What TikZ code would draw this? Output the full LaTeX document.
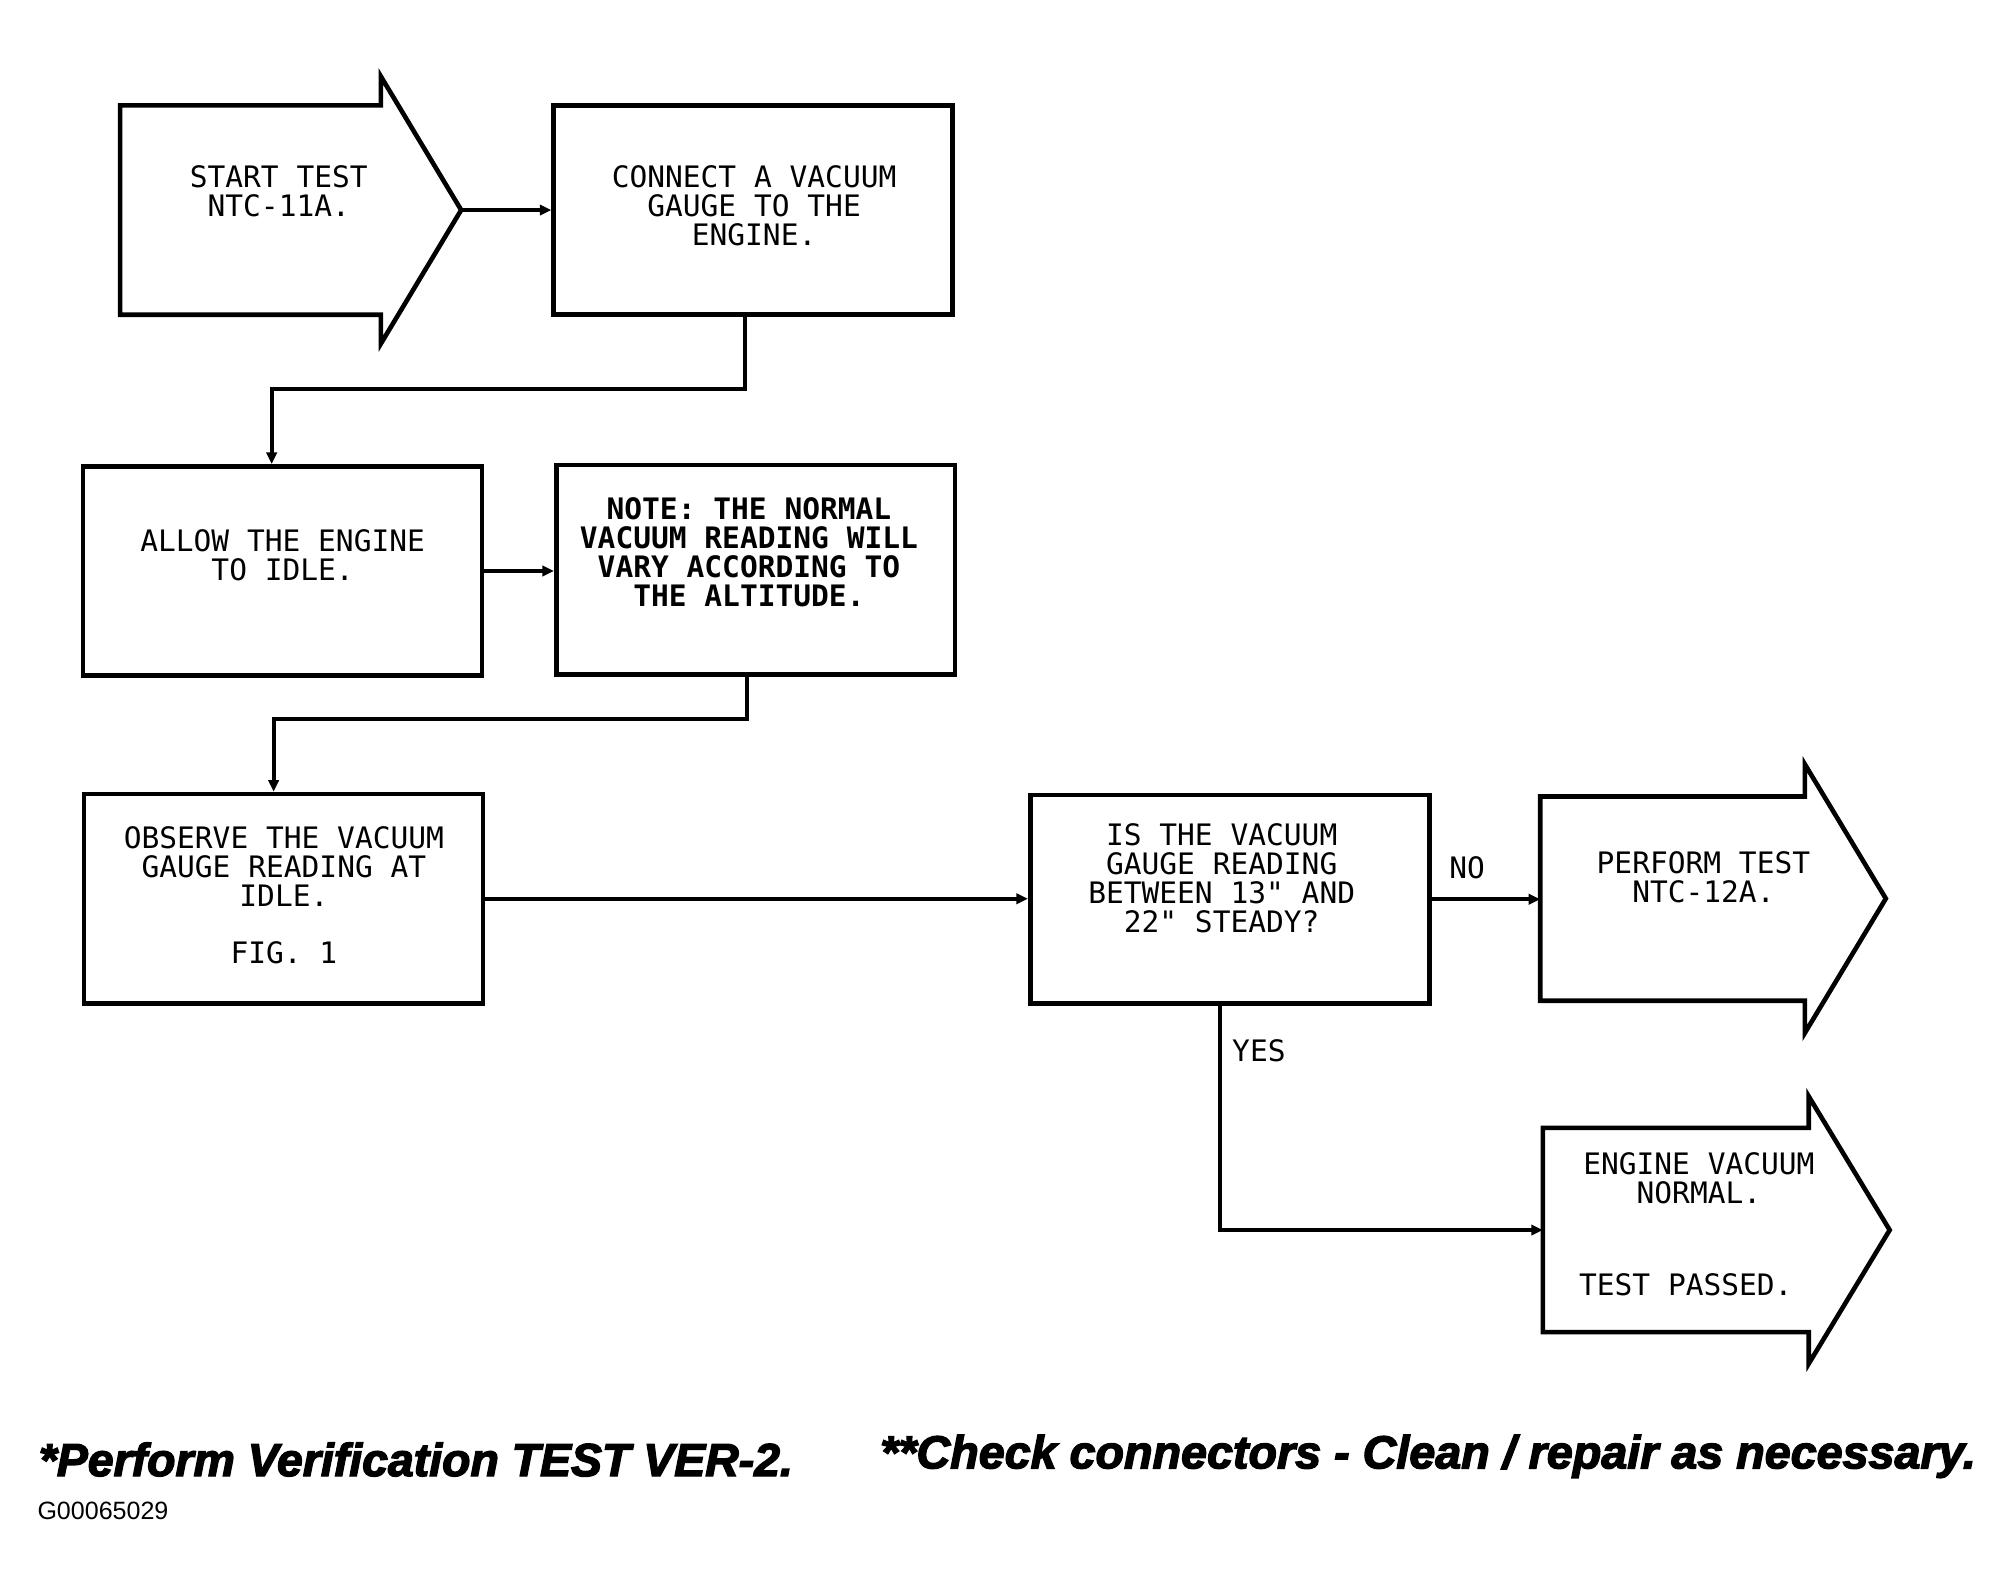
\documentclass[tikz,border=0pt]{standalone}
\usepackage{fontspec}
\usepackage{graphicx}
\usetikzlibrary{arrows.meta,calc}
\newfontfamily\monof[Ligatures=TeXOff]{DejaVu Sans Mono}
\newfontfamily\footf[FakeBold=3]{Liberation Sans Bold Italic}
\newfontfamily\codef{Liberation Sans}
\tikzset{
  boxnode/.style={draw, rectangle, line width=3.6pt, minimum width=310.5pt, minimum height=163pt, inner sep=0pt},
  arrowshape/.style={draw, line width=3.6pt, line join=miter},
  txt/.style={font=\monof\fontsize{23}{22.5}\selectfont, align=center, inner sep=0pt, anchor=north},
  boldtxt/.style={txt, font=\monof\bfseries\fontsize{23}{22.7}\selectfont},
  lbl/.style={font=\monof\fontsize{23}{22.5}\selectfont, inner sep=0pt},
  conn/.style={line width=3pt, -{Triangle[length=9pt,width=8pt]}},
}
\begin{document}
\begin{tikzpicture}[x=1pt,y=-1pt]
\fill[white] (0,0) rectangle (1560,1241);
\useasboundingbox (0,0) rectangle (1560,1241);

% start arrow shape
\draw[arrowshape] (93.5,82) -- (296.5,82) -- (296.5,59.5) -- (359,163.5) -- (296.5,267.5) -- (296.5,245) -- (93.5,245) -- cycle;
\coordinate (starttip) at (359,163.5);
\node[txt] (starttxt) at (217,129) {START TEST\\NTC-11A.};

% boxes
\node[boxnode] (connect) at (586.25,163.5) {};
\node[txt] (connecttxt) at (587,129) {CONNECT A VACUUM\\GAUGE TO THE\\ENGINE.};

\node[boxnode] (allow) at (220,444.5) {};
\node[txt] (allowtxt) at (220,412) {ALLOW THE ENGINE\\TO IDLE.};

\node[boxnode] (note) at (588.25,443.5) {};
\node[boldtxt] (notetxt) at (583,387) {NOTE: THE NORMAL\\VACUUM READING WILL\\VARY ACCORDING TO\\THE ALTITUDE.};

\node[boxnode] (observe) at (220.75,699.6) {};
\node[txt] (observetxt) at (221,643) {OBSERVE THE VACUUM\\GAUGE READING AT\\IDLE.\\[22.5pt]FIG. 1};

\node[boxnode, minimum width=311pt, minimum height=162pt] (is) at (957.5,700) {};
\node[txt] (istxt) at (951,641) {IS THE VACUUM\\GAUGE READING\\BETWEEN 13" AND\\22" STEADY?};

% perform arrow shape
\draw[arrowshape] (1199,620) -- (1405,620) -- (1405,595) -- (1468,699.5) -- (1405,804) -- (1405,779) -- (1199,779) -- cycle;
\coordinate (perfw) at (1199,699.5);
\node[txt] (perftxt) at (1326,663) {PERFORM TEST\\NTC-12A.};

% engine arrow shape
\draw[arrowshape] (1201,878) -- (1408,878) -- (1408,853.5) -- (1471,957.5) -- (1408,1061.5) -- (1408,1037) -- (1201,1037) -- cycle;
\coordinate (engw) at (1201,957.5);
\node[txt] (engtxt) at (1322.5,897) {ENGINE VACUUM\\NORMAL.};
\node[txt, anchor=north west] (passtxt) at (1229,991) {TEST PASSED.};

% connectors
\draw[conn] (starttip) -- (connect.west);
\coordinate (j1) at (211.5,303);
\draw[conn] ([xshift=-6.25pt]connect.south) |- (j1) -- (j1 |- allow.north);
\draw[conn] (allow.east) -- (allow.east -| note.west);
\coordinate (j2) at (213,560);
\draw[conn] ([xshift=-6.75pt]note.south) |- (j2) -- (j2 |- observe.north);
\draw[conn] (observe.east) -- (observe.east -| is.west);
\draw[conn] (is.east) -- (is.east -| perfw);
\draw[conn] ([xshift=-7.5pt]is.south) |- (engw);

\node[lbl, anchor=base] (nolbl) at (1142,684) {NO};
\node[lbl, anchor=base west] (yeslbl) at (959,826) {YES};

% footer
\node[anchor=base west, inner sep=0pt] (foot1) at (30,1149) {\resizebox{587pt}{\height}{\footf\fontsize{36}{40}\selectfont *Perform Verification TEST VER-2.}};
\node[anchor=base west, inner sep=0pt] (foot2) at (685,1143) {\resizebox{853pt}{\height}{\footf\fontsize{36}{40}\selectfont **Check connectors - Clean / repair as necessary.}};
\node[anchor=base west, inner sep=0pt] (code) at (29,1183) {\codef\fontsize{19.5}{22}\selectfont G00065029};
\end{tikzpicture}
\end{document}
